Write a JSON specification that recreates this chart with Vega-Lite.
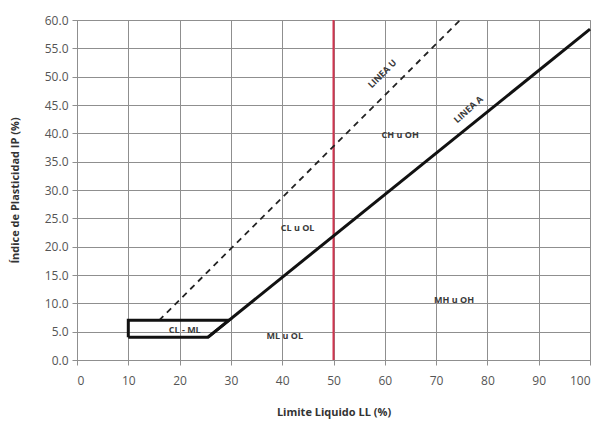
{
  "$schema": "https://vega.github.io/schema/vega-lite/v6.json",
  "width": 513,
  "height": 340,
  "autosize": "none",
  "padding": {"left": 77, "top": 20, "right": 10, "bottom": 70},
  "background": "white",
  "config": {
    "font": "Open Sans",
    "view": {"stroke": "#999"},
    "axis": {
      "gridColor": "#8f8f8f",
      "gridWidth": 1,
      "domainColor": "#8f8f8f",
      "tickColor": "#8f8f8f",
      "labelColor": "#555",
      "labelFontSize": 12,
      "titleFontSize": 11,
      "titleFontWeight": "bold",
      "titleColor": "#333",
      "labelOverlap": false
    }
  },
  "datasets": {
    "solid": [
      {"s": "box", "o": 1, "LL": 10, "IP": 4},
      {"s": "box", "o": 2, "LL": 25.5, "IP": 4},
      {"s": "box", "o": 3, "LL": 29.6, "IP": 7},
      {"s": "box", "o": 4, "LL": 10, "IP": 7},
      {"s": "box", "o": 5, "LL": 10, "IP": 4},
      {"s": "A", "o": 1, "LL": 25.5, "IP": 4},
      {"s": "A", "o": 2, "LL": 100, "IP": 58.4}
    ],
    "uline": [
      {"LL": 16, "IP": 7},
      {"LL": 74.7, "IP": 60}
    ],
    "red": [
      {"LL": 50, "IP": 0},
      {"LL": 50, "IP": 60}
    ],
    "labels": [
      {"LL": 63, "IP": 39.7, "t": "CH u OH"},
      {"LL": 43, "IP": 23.3, "t": "CL u OL"},
      {"LL": 21, "IP": 5.3, "t": "CL - ML"},
      {"LL": 40.5, "IP": 4.3, "t": "ML u OL"},
      {"LL": 73.5, "IP": 10.6, "t": "MH u OH"}
    ],
    "labU": [{"LL": 59.5, "IP": 50.5, "t": "LINEA U"}],
    "labA": [{"LL": 76.3, "IP": 44.2, "t": "LINEA A"}]
  },
  "encoding": {
    "x": {"field": "LL", "type": "quantitative", "scale": {"domain": [0, 100], "nice": false},
      "axis": {"title": "Limite Liquido LL (%)", "values": [0,10,20,30,40,50,60,70,80,90,100], "titlePadding": 20, "labelPadding": 10}},
    "y": {"field": "IP", "type": "quantitative", "scale": {"domain": [0, 60], "nice": false},
      "axis": {"title": "Índice de Plasticidad IP (%)", "values": [0,5,10,15,20,25,30,35,40,45,50,55,60], "format": ".1f", "titlePadding": 24, "labelPadding": 4}}
  },
  "layer": [
    {
      "data": {"name": "red"},
      "mark": {"type": "line", "color": "#d2344f", "strokeWidth": 2}
    },
    {
      "data": {"name": "uline"},
      "mark": {"type": "line", "color": "#222", "strokeWidth": 1.8, "strokeDash": [6, 5]}
    },
    {
      "data": {"name": "solid"},
      "mark": {"type": "line", "color": "#111", "strokeWidth": 3},
      "encoding": {
        "detail": {"field": "s"},
        "order": {"field": "o"}
      }
    },
    {
      "data": {"name": "labels"},
      "mark": {"type": "text", "fontSize": 9, "fontWeight": "bold", "color": "#3a3a3a"},
      "encoding": {"text": {"field": "t"}}
    },
    {
      "data": {"name": "labU"},
      "mark": {"type": "text", "fontSize": 9, "fontWeight": "bold", "color": "#3a3a3a", "angle": -45},
      "encoding": {"text": {"field": "t"}}
    },
    {
      "data": {"name": "labA"},
      "mark": {"type": "text", "fontSize": 9, "fontWeight": "bold", "color": "#3a3a3a", "angle": -42},
      "encoding": {"text": {"field": "t"}}
    }
  ]
}
